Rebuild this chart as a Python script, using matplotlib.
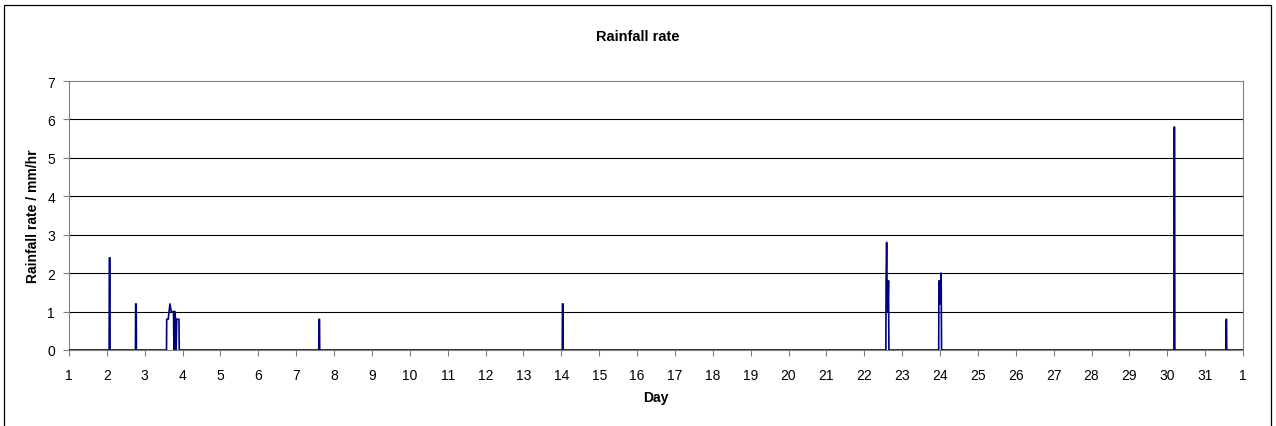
import matplotlib
matplotlib.use("Agg")
import matplotlib.pyplot as plt
from matplotlib.patches import Rectangle

plt.rcParams['font.family'] = ['Liberation Sans', 'DejaVu Sans']

# Day (fractional) and rainfall rate (mm/hr)
days = [1.0,
        2.06, 2.065, 2.08, 2.085,
        2.755, 2.76, 2.775, 2.78,
        3.575, 3.58, 3.62, 3.665, 3.70, 3.76, 3.77, 3.78, 3.80, 3.81, 3.825, 3.83, 3.845, 3.905, 3.91,
        7.595, 7.60, 7.615, 7.62,
        14.025, 14.03, 14.045, 14.05,
        22.57, 22.575, 22.59, 22.60, 22.62, 22.64, 22.65,
        23.965, 23.97, 23.99, 24.005, 24.03, 24.04,
        30.175, 30.18, 30.195, 30.20,
        31.55, 31.555, 31.565, 31.57,
        32.0]
rates = [0.0,
         0.0, 2.4, 2.4, 0.0,
         0.0, 1.2, 1.2, 0.0,
         0.0, 0.8, 0.8, 1.2, 1.0, 1.0, 0.0, 1.0, 1.0, 0.8, 0.8, 0.0, 0.8, 0.8, 0.0,
         0.0, 0.8, 0.8, 0.0,
         0.0, 1.2, 1.2, 0.0,
         0.0, 1.8, 2.8, 1.8, 1.0, 1.8, 0.0,
         0.0, 1.8, 1.8, 1.2, 2.0, 0.0,
         0.0, 5.8, 5.8, 0.0,
         0.0, 0.8, 0.8, 0.0,
         0.0]

tick_pos = list(range(1, 33))
tick_labels = [str(d) for d in range(1, 32)] + ['1']

fig = plt.figure(figsize=(12.76, 4.27), dpi=100)
ax = fig.add_axes([69 / 1276, 1 - 351 / 427, (1243 - 69) / 1276, (351 - 82) / 427])

ax.plot(days, rates, color='#000080', linewidth=1.2, zorder=3)

ax.set_xlim(1, 32)
ax.set_ylim(0, 7)
ax.set_xticks(tick_pos)
ax.set_xticklabels(tick_labels, fontsize=10)
ax.set_yticks(range(0, 8))
ax.tick_params(axis='y', labelsize=10, pad=6)
ax.tick_params(axis='x', pad=9)
ax.tick_params(direction='out', length=4, color='#808080', width=0.8)

# horizontal gridlines
for y in range(1, 7):
    ax.axhline(y, color='black', linewidth=0.8, zorder=1)

for s in ax.spines.values():
    s.set_color('#808080')
    s.set_linewidth(0.8)

ax.set_xlabel('Day', fontsize=10, fontweight='bold', labelpad=6)
ax.set_ylabel('Rainfall rate / mm/hr', fontsize=10, fontweight='bold', labelpad=5)
fig.text(0.5, 1 - 37 / 427, 'Rainfall rate', ha='center', va='center',
         fontsize=10.5, fontweight='bold')

# chart area border
fig.patches.append(Rectangle((4 / 1276, -0.02), (1271 - 4) / 1276, 1.02 - 6 / 427,
                             transform=fig.transFigure, fill=False,
                             edgecolor='black', linewidth=0.9))

fig.savefig('out.png', dpi=100)
